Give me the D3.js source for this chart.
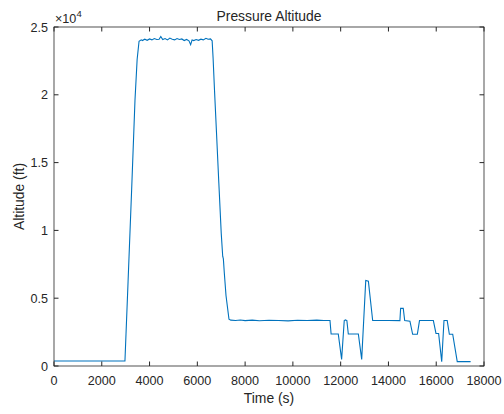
<!DOCTYPE html>
<html><head><meta charset="utf-8">
<script src="https://cdn.jsdelivr.net/npm/d3@7"></script>
<style>body{margin:0;background:#fff}svg{display:block}text{font-family:"Liberation Sans",Arial,sans-serif;fill:#262626}</style>
</head><body><svg id="c" width="504" height="414"></svg>
<script>
const timeS = [0,2970,3100,3250,3390,3480,3560,
3650,3700,3800,3900,4000,4100,4200,4300,4400,4470,4550,4650,4750,4850,4950,5050,5150,5250,5350,5450,5550,5650,5720,5780,5850,5950,6050,6150,6250,6360,6450,6550,6620,
6660,6720,6800,6900,7000,7062,7090,7128,7200,7325,
7400,7600,7800,8000,8300,8600,9000,9400,9800,10200,10600,11000,11300,11553,
11600,11900,12040,12150,12200,12260,12320,12740,12880,13050,13160,13340,
13600,14000,14480,14510,14620,14680,14900,15013,15210,15300,15600,15880,15990,16100,16230,16325,16460,16550,16690,16880,17440];
const altitudeFt = [370,370,6200,13000,19600,22600,23950,
24050,24000,24100,24020,24120,24050,24150,24080,24100,24300,24080,24150,24050,24180,24100,24050,24150,24080,24120,24000,24080,23980,23700,24050,24000,24080,24020,24100,24050,24170,24100,24120,23980,
22700,20300,17300,13500,9800,8100,7900,6900,5200,3450,
3380,3360,3390,3350,3380,3340,3370,3360,3330,3370,3350,3380,3350,3350,
2360,2360,490,3350,3400,3350,2360,2360,490,6300,6250,3350,
3350,3360,3350,4250,4250,3350,3300,2340,2340,3350,3360,3350,2400,2400,320,3350,3350,2340,2340,320,320];
const xTicks = [0,2000,4000,6000,8000,10000,12000,14000,16000,18000];
const yTicks = [0,0.5,1,1.5,2,2.5];
const yExp = 4;

const svg = d3.select("#c");
const L=54,R=484,T=27,B=366;
const x = d3.scaleLinear().domain([0,18000]).range([L,R]);
const y = d3.scaleLinear().domain([0,25000]).range([B,T]);
const col="#262626";
const fs=12.6, fl=13.9;

const pts = timeS.map((t,i)=>[t,altitudeFt[i]]);
svg.append("path").datum(pts).attr("fill","none").attr("stroke","#0072BD").attr("stroke-width",1.1)
  .attr("d",d3.line().x(d=>x(d[0])).y(d=>y(d[1])));

svg.append("rect").attr("x",L).attr("y",T).attr("width",R-L).attr("height",B-T)
  .attr("fill","none").attr("stroke",col).attr("stroke-width",0.8);

const tl=4.5;
const g=svg.append("g");
xTicks.forEach(v=>{
  const px=x(v);
  g.append("line").attr("x1",px).attr("x2",px).attr("y1",B).attr("y2",B-tl).attr("stroke",col);
  g.append("line").attr("x1",px).attr("x2",px).attr("y1",T).attr("y2",T+tl).attr("stroke",col);
  g.append("text").attr("x",px).attr("y",B+19).attr("text-anchor","middle").attr("font-size",fs).text(v);
});
yTicks.forEach(v=>{
  const py=y(v*Math.pow(10,yExp));
  g.append("line").attr("x1",L).attr("x2",L+tl).attr("y1",py).attr("y2",py).attr("stroke",col);
  g.append("line").attr("x1",R).attr("x2",R-tl).attr("y1",py).attr("y2",py).attr("stroke",col);
  g.append("text").attr("x",L-6).attr("y",py+4.5).attr("text-anchor","end").attr("font-size",fs).text(v);
});
const ex=svg.append("text").attr("x",55).attr("y",23).attr("font-size",fs);
ex.append("tspan").text("×10");
ex.append("tspan").attr("dy",-6).attr("font-size",9.5).text(yExp);

svg.append("text").attr("x",(L+R)/2).attr("y",21).attr("text-anchor","middle").attr("font-size",fl).text("Pressure Altitude");
svg.append("text").attr("x",(L+R)/2).attr("y",403).attr("text-anchor","middle").attr("font-size",fl).text("Time (s)");
svg.append("text").attr("transform",`translate(23.5,${(T+B)/2}) rotate(-90)`).attr("text-anchor","middle").attr("font-size",fl).text("Altitude (ft)");
</script></body></html>
